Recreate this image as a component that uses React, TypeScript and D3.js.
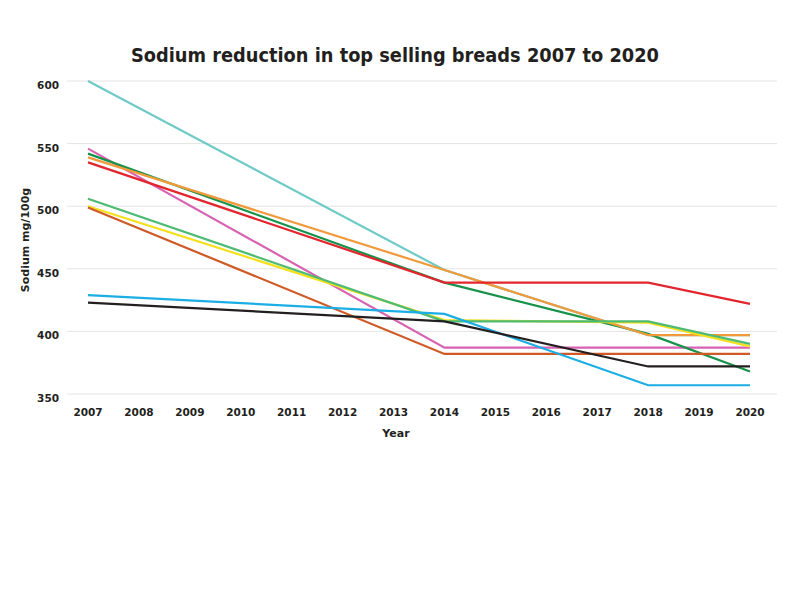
import * as d3 from 'd3';

const years = [2007, 2014, 2018, 2020];
const yTicks = [350, 400, 450, 500, 550, 600];
const xTicks = d3.range(2007, 2021);

// one entry per bread line, drawn in this order
const seriesNames = ['teal', 'pink', 'darkGreen', 'orange', 'red', 'yellow', 'green', 'brown', 'blue', 'black'];
const seriesColors = ['#6fcac6', '#d862b2', '#16924a', '#f19a3b', '#e1262e', '#f4e01c', '#4dbb74', '#cf5a26', '#1baee5', '#231f20'];
const teal = [600, 449, 397, 397];
const pink = [546, 387, 387, 387];
const darkGreen = [542, 439, 398, 368];
const orange = [539, 449, 397, 397];
const red = [535, 439, 439, 422];
const yellow = [500, 409, 407, 388];
const green = [506, 408, 408, 390];
const brown = [499, 382, 382, 382];
const blue = [429, 414, 357, 357];
const black = [423, 408, 372, 372];
const seriesValues = [teal, pink, darkGreen, orange, red, yellow, green, brown, blue, black];

const font = "'DejaVu Sans', sans-serif";

export default function App() {
  const w = 800;
  const h = 600;
  const x = d3.scaleLinear().domain([2007, 2020]).range([88, 750]);
  const y = d3.scaleLinear().domain([350, 600]).range([394, 81]);
  const line = d3
    .line<number>()
    .x((_, i) => x(years[i]))
    .y((d) => y(d));

  return (
    <svg width={w} height={h} style={{ position: 'absolute', left: 0, top: 0, background: '#fff' }}>
      <text x={395} y={62} textAnchor='middle' fontFamily={font} fontWeight='bold' fontSize={19} fill='#231f20' textLength={528} lengthAdjust='spacingAndGlyphs'>
        Sodium reduction in top selling breads 2007 to 2020
      </text>
      {yTicks.map((t) => (
        <g key={t}>
          <line x1={67} x2={777} y1={y(t)} y2={y(t)} stroke='#e4e4e4' strokeWidth={1} />
          <text x={59} y={y(t) + 8} textAnchor='end' fontFamily={font} fontWeight='bold' fontSize={10.5} fill='#231f20'>
            {t}
          </text>
        </g>
      ))}
      {xTicks.map((t) => (
        <text key={t} x={x(t)} y={416} textAnchor='middle' fontFamily={font} fontWeight='bold' fontSize={10.5} fill='#231f20'>
          {t}
        </text>
      ))}
      <text x={396} y={437} textAnchor='middle' fontFamily={font} fontWeight='bold' fontSize={11} fill='#231f20'>
        Year
      </text>
      <text transform='translate(29, 240) rotate(-90)' textAnchor='middle' fontFamily={font} fontWeight='bold' fontSize={11} fill='#231f20'>
        Sodium mg/100g
      </text>
      {seriesValues.map((vals, i) => (
        <path key={seriesNames[i]} d={line(vals) ?? ''} fill='none' stroke={seriesColors[i]} strokeWidth={2.2} />
      ))}
    </svg>
  );
}
